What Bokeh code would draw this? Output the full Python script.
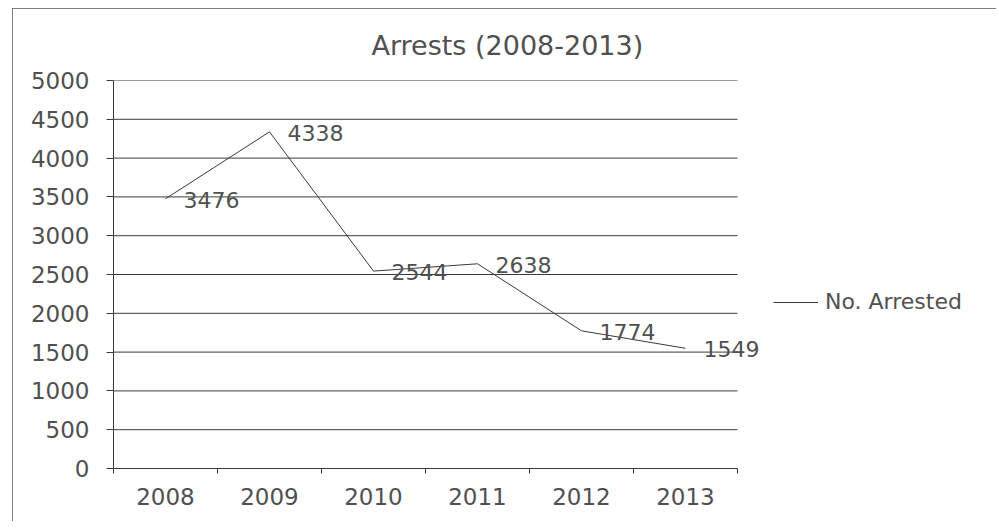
from bokeh.plotting import figure
from bokeh.models import (ColumnDataSource, LabelSet, Range1d, FixedTicker, Title, Legend, LegendItem)
from bokeh.core.properties import value
from bokeh.embed import file_html
from bokeh.resources import INLINE

years = [2008, 2009, 2010, 2011, 2012, 2013]
arrested = [3476, 4338, 2544, 2638, 1774, 1549]
y_ticks = [0, 500, 1000, 1500, 2000, 2500, 3000, 3500, 4000, 4500, 5000]
title_text = "Arrests (2008-2013)"
series_name = "No. Arrested"

FONT = "DejaVu Sans"
TXT = "#505050"
LINE = "#3a3a3a"

W, H = 984, 513
ML, MR, MT, MB = 101, 4, 72, 53
frame_w = W - ML - MR
cat_px = 104  # width of one category on screen
x_start = years[0] - 0.5
x_end = x_start + frame_w / cat_px
x_last = years[-1] + 0.5

src = ColumnDataSource(dict(x=years, y=arrested, lab=[str(v) for v in arrested]))

p = figure(width=W, height=H, output_backend="svg", toolbar_location=None,
           x_range=Range1d(x_start, x_end), y_range=Range1d(y_ticks[0], y_ticks[-1]),
           min_border_left=ML, min_border_right=MR, min_border_top=MT, min_border_bottom=MB)
p.styles = {"margin-left": "12px", "margin-top": "8px", "outline": "1px solid #555",
            "outline-offset": "-1px"}
p.outline_line_color = None
p.background_fill_color = "white"
p.border_fill_color = "white"

# horizontal gridlines limited to the category span
p.segment(x0=[x_start] * len(y_ticks), x1=[x_last] * len(y_ticks), y0=y_ticks, y1=y_ticks,
          line_color=LINE, line_width=1)

boundaries = [y - 0.5 for y in years] + [x_last]
p.xaxis.ticker = FixedTicker(ticks=years, minor_ticks=boundaries)
p.xaxis.bounds = (x_start, x_last)
p.xaxis.major_tick_out = 0
p.xaxis.major_tick_in = 0
p.xaxis.minor_tick_out = 5
p.xaxis.minor_tick_in = 0
p.xaxis.minor_tick_line_color = LINE
p.xaxis.axis_line_color = LINE
p.xaxis.major_label_standoff = 14

p.yaxis.ticker = FixedTicker(ticks=y_ticks)
p.yaxis.minor_tick_line_color = None
p.yaxis.major_tick_out = 7
p.yaxis.major_tick_in = 0
p.yaxis.major_tick_line_color = LINE
p.yaxis.axis_line_color = LINE
p.yaxis.major_label_standoff = 17

for ax in (p.xaxis, p.yaxis):
    ax.major_label_text_font = FONT
    ax.major_label_text_font_size = "23px"
    ax.major_label_text_color = TXT

p.xgrid.grid_line_color = None
p.ygrid.grid_line_color = None

r = p.line("x", "y", source=src, line_color=LINE, line_width=1)

labels = LabelSet(x="x", y="y", text="lab", source=src, x_offset=18, y_offset=-1,
                  text_baseline="middle", text_align="left",
                  text_font=value(FONT), text_font_size=value("22px"), text_color=TXT)
p.add_layout(labels)

legend = Legend(items=[LegendItem(label=series_name, renderers=[r])],
                location=(660, 154), border_line_color=None, background_fill_alpha=0,
                glyph_width=45, glyph_height=20, label_standoff=7, padding=0, margin=0,
                label_text_font=FONT, label_text_font_size="22px", label_text_color=TXT)
p.add_layout(legend, "center")

p.add_layout(Title(text=title_text, align="left", offset=258, standoff=39,
                   text_font=FONT, text_font_size="27px", text_font_style="normal",
                   text_color=TXT), "above")

open("out.html", "w").write(file_html(p, INLINE))
